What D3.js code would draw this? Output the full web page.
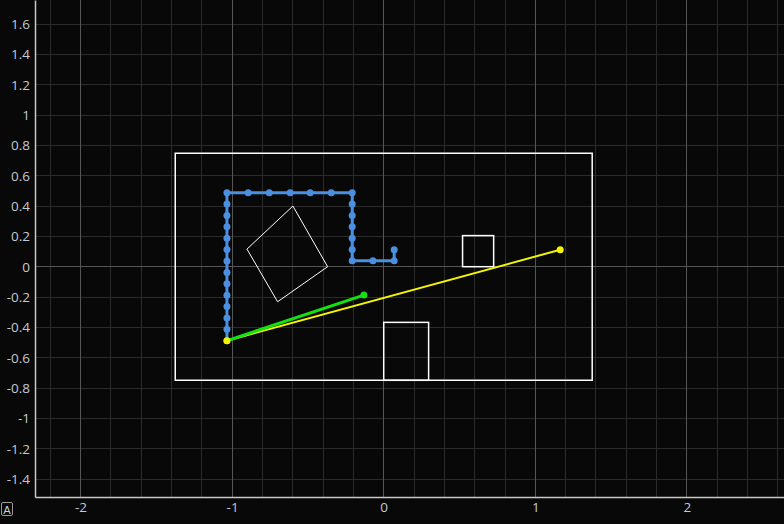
<!DOCTYPE html>
<html><head><meta charset="utf-8">
<script src="https://cdn.jsdelivr.net/npm/d3@7"></script>
<style>html,body{margin:0;padding:0;background:#080808;overflow:hidden}svg{display:block}</style>
</head><body>
<script>
// ---- data ----
const xTicks = [-2, -1, 0, 1, 2];
const yTicks = [-1.4, -1.2, -1, -0.8, -0.6, -0.4, -0.2, 0, 0.2, 0.4, 0.6, 0.8, 1, 1.2, 1.4, 1.6];
// field boundary
const fieldX = [-1.375, 1.375, 1.375, -1.375];
const fieldY = [0.748, 0.748, -0.749, -0.749];
// axis-aligned obstacles: [x0, x1, y0, y1]
const boxA = [0.52, 0.725, 0, 0.205];
const boxB = [0, 0.296, -0.749, -0.367];
// rotated square
const rotX = [-0.599, -0.902, -0.700, -0.370];
const rotY = [0.400, 0.116, -0.231, 0.000];
// blue path
const pathX = [-1.034, -1.034, -1.034, -1.034, -1.034, -1.034, -1.034, -1.034, -1.034, -1.034, -1.034, -1.034, -1.034, -1.034,
  -0.894, -0.755, -0.617, -0.485, -0.346, -0.208,
  -0.208, -0.208, -0.208, -0.208, -0.208, -0.208,
  -0.071, 0.069, 0.069];
const pathY = [-0.488, -0.413, -0.338, -0.263, -0.188, -0.113, -0.038, 0.038, 0.113, 0.188, 0.263, 0.338, 0.413, 0.488,
  0.488, 0.488, 0.488, 0.488, 0.488, 0.488,
  0.413, 0.338, 0.263, 0.188, 0.113, 0.040,
  0.040, 0.040, 0.112];
// straight segments
const yellowX = [-1.034, 1.164];
const yellowY = [-0.488, 0.112];
const greenX = [-1.034, -0.131];
const greenY = [-0.488, -0.187];

// ---- chart ----
const W = 784, H = 524;
const left = 35, bottom = 497;
const x = d3.scaleLinear().domain([-2.3, 2.64]).range([left, W]);
const y = d3.scaleLinear().domain([-1.5184, 1.7584]).range([bottom, 0]);

const svg = d3.select("body").append("svg").attr("width", W).attr("height", H);
svg.append("rect").attr("width", W).attr("height", H).attr("fill", "#080808");

const g = svg.append("g");
const xMinor = d3.range(-22, 27, 2).map(v => v / 10).filter(v => Math.abs(v - Math.round(v)) > 1e-6);
g.selectAll(".vx").data(xMinor).join("line")
  .attr("x1", d => x(d)).attr("x2", d => x(d)).attr("y1", 0).attr("y2", bottom)
  .attr("stroke", "#2b2b2b").attr("stroke-width", 1).attr("shape-rendering", "crispEdges");
g.selectAll(".hy").data(yTicks.filter(v => v !== 0)).join("line")
  .attr("x1", left).attr("x2", W).attr("y1", d => y(d)).attr("y2", d => y(d))
  .attr("stroke", "#2b2b2b").attr("stroke-width", 1).attr("shape-rendering", "crispEdges");
g.selectAll(".vmaj").data(xTicks).join("line")
  .attr("x1", d => x(d)).attr("x2", d => x(d)).attr("y1", 0).attr("y2", bottom)
  .attr("stroke", "#555").attr("stroke-width", 1).attr("shape-rendering", "crispEdges");
g.append("line").attr("x1", left).attr("x2", W).attr("y1", y(0)).attr("y2", y(0))
  .attr("stroke", "#555").attr("stroke-width", 1).attr("shape-rendering", "crispEdges");

// axes
const xAxis = d3.axisBottom(x).tickValues(xTicks).tickSize(0).tickPadding(5);
const yAxis = d3.axisLeft(y).tickValues(yTicks).tickSize(0).tickPadding(5);
const gx = svg.append("g").attr("transform", `translate(0,${bottom})`).call(xAxis);
const gy = svg.append("g").attr("transform", `translate(${left},0)`).call(yAxis);
[gx, gy].forEach(a => {
  a.select(".domain").attr("stroke", "#c8c8c8").attr("stroke-width", 1.5);
  a.selectAll("text").attr("fill", "#c4cad2").style("font-family", "'Open Sans', sans-serif").style("font-size", "13.5px");
});
gx.selectAll("text").text(d => String(d));
gy.selectAll("text").text(d => String(+d.toFixed(1)));

// field and obstacles
const line = d3.line().x(d => x(d[0])).y(d => y(d[1]));
const fieldPts = fieldX.map((v, i) => [v, fieldY[i]]);
svg.append("path").attr("d", line(fieldPts) + "Z").attr("fill", "none").attr("stroke", "#fff").attr("stroke-width", 1.5);
[boxA, boxB].forEach(b => {
  svg.append("rect").attr("x", x(b[0])).attr("y", y(b[3]))
    .attr("width", x(b[1]) - x(b[0])).attr("height", y(b[2]) - y(b[3]))
    .attr("fill", "none").attr("stroke", "#fff").attr("stroke-width", 1.5);
});
const rotPts = rotX.map((v, i) => [v, rotY[i]]);
svg.append("path").attr("d", line(rotPts) + "Z").attr("fill", "none").attr("stroke", "#fff").attr("stroke-width", 1);

// blue path
const bluePts = pathX.map((v, i) => [v, pathY[i]]);
svg.append("path").attr("d", line(bluePts)).attr("fill", "none").attr("stroke", "#4a8fe0").attr("stroke-width", 3);
svg.selectAll(".bp").data(bluePts).join("circle")
  .attr("cx", d => x(d[0])).attr("cy", d => y(d[1])).attr("r", 3.5).attr("fill", "#4a8fe0");

// yellow & green
const yPts = yellowX.map((v, i) => [v, yellowY[i]]);
const gPts = greenX.map((v, i) => [v, greenY[i]]);
svg.append("path").attr("d", line(yPts)).attr("stroke", "#f5f500").attr("stroke-width", 2).attr("fill", "none");
svg.append("path").attr("d", line(gPts)).attr("stroke", "#14e014").attr("stroke-width", 3).attr("fill", "none");
svg.append("circle").attr("cx", x(gPts[1][0])).attr("cy", y(gPts[1][1])).attr("r", 3.5).attr("fill", "#14e014");
svg.selectAll(".yp").data(yPts).join("circle")
  .attr("cx", d => x(d[0])).attr("cy", d => y(d[1])).attr("r", 3.5).attr("fill", "#f5f500");

// small "A" badge
const badge = svg.append("g");
badge.append("rect").attr("x", 1.5).attr("y", 502.5).attr("width", 11).attr("height", 13).attr("rx", 1.5)
  .attr("fill", "none").attr("stroke", "#9a9a9a").attr("stroke-width", 1);
badge.append("text").attr("x", 7).attr("y", 513.5).attr("text-anchor", "middle")
  .attr("fill", "#d0d0d0").style("font-family", "'DejaVu Sans', sans-serif").style("font-size", "11px").text("A");
</script>
</body></html>
